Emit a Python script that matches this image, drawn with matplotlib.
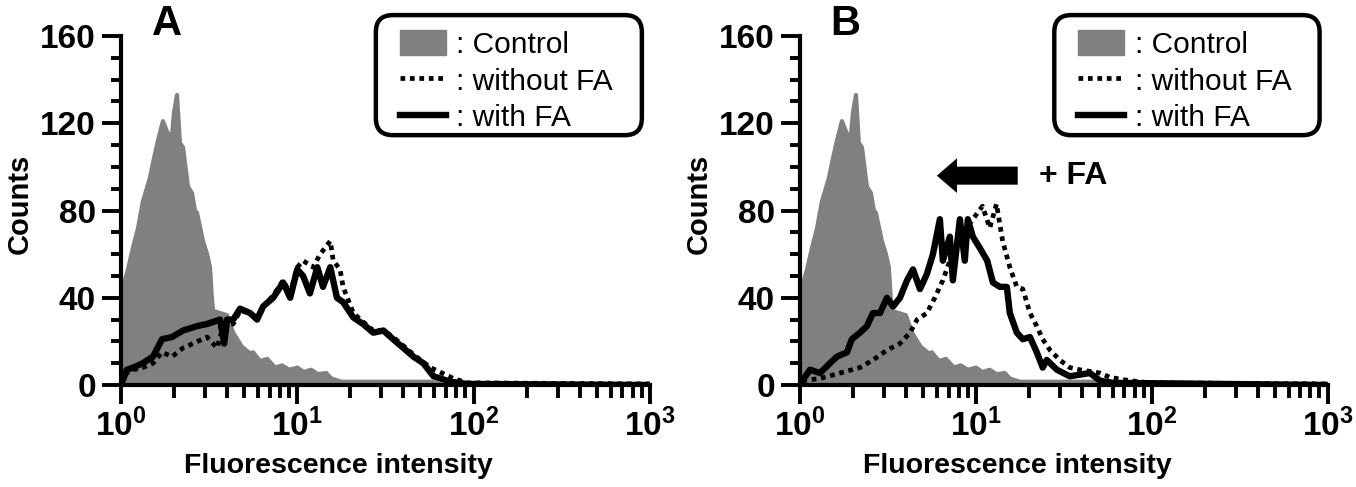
import matplotlib
matplotlib.use("Agg")
import matplotlib.pyplot as plt
from matplotlib.patches import Patch, FancyBboxPatch
from matplotlib.lines import Line2D
from matplotlib.ticker import FixedLocator, NullFormatter

plt.rcParams['font.family'] = ['Liberation Sans', 'DejaVu Sans']
plt.rcParams['mathtext.fontset'] = 'custom'
plt.rcParams['mathtext.rm'] = 'Liberation Sans:bold'
plt.rcParams['mathtext.bf'] = 'Liberation Sans:bold'
plt.rcParams['mathtext.it'] = 'Liberation Sans:bold'

# ---------------- data ----------------
control_x = [1.0, 1.026, 1.096, 1.17, 1.25, 1.33, 1.46, 1.52, 1.62, 1.73, 1.85, 1.95,
             2.0, 2.08, 2.16, 2.25, 2.40, 2.53, 2.63, 2.70, 2.92, 3.08, 3.20, 3.28,
             3.33, 3.65, 4.0, 4.33, 4.86, 5.40, 5.62, 6.16, 6.75, 7.5, 8.2, 9.0, 10.0,
             10.9, 12.0, 13.1, 14.6, 15.6, 17.8, 58.0, 67.0, 1000.0]
control_y = [45, 45, 53, 63, 72, 84, 95, 102, 112, 121, 115, 115,
             125, 133, 111, 109, 91, 88, 80, 79, 66, 60, 54, 40,
             34, 33, 32, 24, 17.5, 14.5, 15, 11, 12, 8, 9, 7, 8,
             6, 7, 5, 5.5, 3, 1.5, 1.5, 0, 0]

a_with_x = [1.0, 1.08, 1.17, 1.33, 1.52, 1.71, 1.95, 2.25, 2.70, 3.08, 3.65, 3.85, 4.0,
            4.33, 4.74, 5.40, 5.92, 6.40, 7.30, 8.32, 9.12, 10.0, 10.8, 11.8, 13.0,
            14.0, 15.4, 16.8, 18.2, 20.8, 23.6, 27.0, 30.8, 35.0, 40.0, 45.6, 51.9,
            59.3, 74.0, 92.0, 1000.0]
a_with_y = [0, 7, 8, 10, 13, 21, 22, 25, 27, 28, 30, 19, 30,
            30, 35, 33, 30, 36, 40, 47, 40, 53, 50, 42, 54,
            45, 54, 40, 38, 31, 28, 24, 25, 21, 17, 13, 10,
            4, 1.5, 0.5, 0]

a_without_x = [1.05, 1.17, 1.33, 1.52, 1.71, 1.95, 2.25, 2.56, 3.08, 3.51, 3.80, 4.33,
               4.74, 5.40, 5.92, 6.40, 7.30, 8.32, 9.12, 10.0, 10.8, 12.3, 13.5, 15.4,
               16.0, 17.5, 18.2, 20.8, 23.6, 27.0, 30.8, 35.0, 40.0, 45.6, 57.0, 77.0,
               92.0, 1000.0]
a_without_y = [5, 7, 8, 10, 15, 13, 17, 19, 22, 17, 27, 28,
               34, 33, 31, 36, 41, 48, 42, 54, 57, 54, 60, 66,
               57, 53, 45, 33, 29, 25, 25, 22, 18, 14, 8, 3,
               1, 0.5]

b_with_x = [1.0, 1.03, 1.14, 1.30, 1.48, 1.62, 1.85, 1.97, 2.19, 2.40, 2.60, 2.85, 3.12,
            3.38, 3.70, 4.06, 4.39, 4.81, 5.27, 5.70, 6.24, 6.49, 7.11, 7.40, 8.11,
            8.65, 9.00, 9.61, 10.5, 11.6, 12.5, 13.7, 15.0, 15.6, 17.1, 18.5, 20.3,
            22.2, 24.0, 25.3, 28.9, 34.2, 44.5, 50.8, 60.0, 1000.0]
b_with_y = [0, 2, 7, 5.5, 10, 13, 15, 21, 24, 27, 33, 33, 40,
            36, 40, 48, 53, 44, 51, 60, 76, 57, 68, 48, 76,
            57, 76, 68, 63, 57, 47, 45, 45, 33, 24, 21, 22,
            15, 8, 11.5, 7, 4, 5.5, 2, 1, 0]

b_without_x = [1.03, 1.30, 1.69, 2.19, 2.60, 3.12, 3.70, 4.22, 4.63, 5.27, 5.84, 6.49,
               7.11, 7.79, 8.43, 9.61, 10.9, 12.0, 13.1, 14.2, 15.6, 17.1, 18.5, 20.3,
               22.2, 24.0, 26.4, 30.0, 34.2, 39.0, 50.8, 58.0, 75.0, 97.5, 1000.0]
b_without_y = [2, 3, 5.5, 8, 11.5, 16, 19, 24, 30, 33, 40, 48,
               57, 65, 70, 76, 82, 72, 83, 66, 54, 45, 44, 33,
               27, 21, 16, 11.5, 8, 7, 5.5, 3.5, 2, 1, 0.5]

panels = [
    dict(label='A', wx=a_with_x, wy=a_with_y, ox=a_without_x, oy=a_without_y),
    dict(label='B', wx=b_with_x, wy=b_with_y, ox=b_without_x, oy=b_without_y),
]

legend_labels = [': Control', ': without FA', ': with FA']
y_major = [0, 40, 80, 120, 160]
x_major = [1, 10, 100, 1000]
x_major_labels = [r'$\mathbf{10^{0}}$', r'$\mathbf{10^{1}}$', r'$\mathbf{10^{2}}$', r'$\mathbf{10^{3}}$']

GRAY = '#808080'

fig = plt.figure(figsize=(13.56, 4.87), dpi=100)
positions = [[0.0892, 0.2094, 0.390, 0.7166], [0.590, 0.2094, 0.389, 0.7166]]

for pos, p in zip(positions, panels):
    ax = fig.add_axes(pos)
    ax.set_xscale('log')
    ax.set_xlim(1, 1000)
    ax.set_ylim(0, 160)

    ax.fill_between(control_x, control_y, 0, color=GRAY, lw=0, zorder=1)
    ax.plot(control_x, control_y, color=GRAY, lw=3, solid_joinstyle='round',
            solid_capstyle='round', zorder=1)
    ax.plot(p['ox'], p['oy'], color='black', lw=3.4, linestyle=(0, (1, 1)),
            dash_capstyle='butt', zorder=3)
    ax.plot(p['wx'], p['wy'], color='black', lw=4.6, solid_joinstyle='round',
            solid_capstyle='round', zorder=4)

    for s in ['top', 'right']:
        ax.spines[s].set_visible(False)
    for s in ['left', 'bottom']:
        ax.spines[s].set_linewidth(3)

    ax.yaxis.set_major_locator(FixedLocator(y_major))
    ax.yaxis.set_minor_locator(FixedLocator([v for v in range(0, 161, 10) if v % 40]))
    ax.set_yticklabels([str(v) for v in y_major])
    ax.xaxis.set_major_locator(FixedLocator(x_major))
    ax.xaxis.set_minor_locator(FixedLocator([m * d for d in (1, 10, 100) for m in range(2, 10)]))
    ax.xaxis.set_minor_formatter(NullFormatter())
    ax.set_xticklabels(x_major_labels)

    ax.tick_params(axis='both', which='major', length=14, width=2.8, labelsize=24, pad=3)
    ax.tick_params(axis='y', which='major', pad=4)
    ax.tick_params(axis='y', which='minor', length=7, width=2.8)
    ax.tick_params(axis='x', which='minor', length=9, width=2.8)
    for t in ax.get_yticklabels():
        t.set_fontweight('bold')

    ax.set_xlabel('Fluorescence intensity', fontsize=20.5, fontweight='bold')
    ax.xaxis.set_label_coords(0.412, -0.195)
    ax.set_ylabel('Counts', fontsize=21, fontweight='bold')
    ax.yaxis.set_label_coords(-0.165, 0.52)

    ax.text(0.058, 1.003, p['label'], transform=ax.transAxes, fontsize=30,
            fontweight='bold', ha='left', va='baseline')

    # legend entries without a frame, then a rounded box drawn around them
    handles = [Patch(facecolor=GRAY, edgecolor=GRAY),
               Line2D([], [], color='black', lw=3.4, linestyle=(0, (1, 1)), dash_capstyle='butt'),
               Line2D([], [], color='black', lw=4.6)]
    ax.legend(handles, legend_labels, loc='upper left', bbox_to_anchor=(0.527, 1.017),
              borderaxespad=0, borderpad=0, fontsize=21.5, frameon=False,
              handlelength=1.55, handleheight=0.9, handletextpad=0.35,
              labelspacing=0.27)
    ax_w = pos[2] * 1356
    ax_h = pos[3] * 487
    box = FancyBboxPatch((0.482, 0.716), 0.503, 0.344,
                         boxstyle='round,pad=0,rounding_size=0.032',
                         mutation_aspect=ax_w / ax_h,
                         transform=ax.transAxes, facecolor='white', edgecolor='black',
                         lw=3.2, clip_on=False, zorder=4.5)
    ax.add_patch(box)

    if p['label'] == 'B':
        ax.annotate('', xy=(6.0, 96), xytext=(17.3, 96),
                    arrowprops=dict(arrowstyle='simple,head_length=1.45,head_width=2.5,tail_width=1.3',
                                    mutation_scale=10, color='black', lw=0, shrinkA=0, shrinkB=0))
        ax.text(23.0, 96, '+ FA', fontsize=23, fontweight='bold', ha='left', va='center')

fig.savefig('out.png', dpi=100)
